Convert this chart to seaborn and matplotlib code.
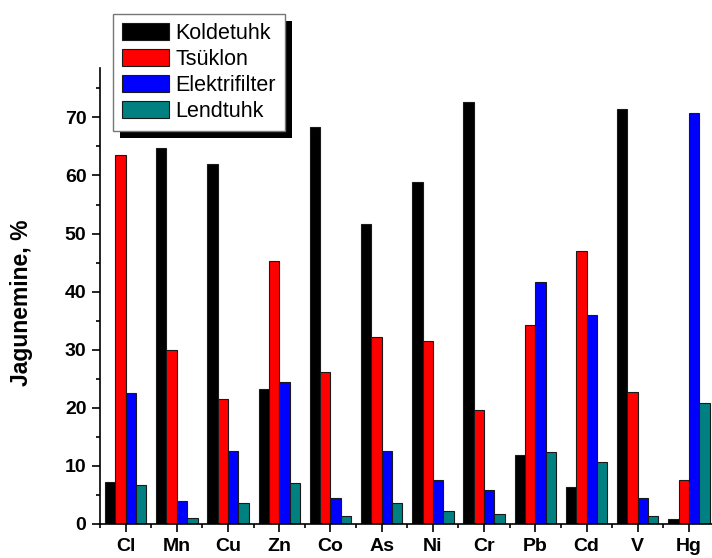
import matplotlib
matplotlib.use("Agg")
import matplotlib.pyplot as plt
from matplotlib.patches import Patch, Rectangle
from matplotlib.ticker import MultipleLocator, FixedLocator
import seaborn as sns
import pandas as pd
import numpy as np

elements = ["Cl", "Mn", "Cu", "Zn", "Co", "As", "Ni", "Cr", "Pb", "Cd", "V", "Hg"]
series = ["Koldetuhk", "Tsüklon", "Elektrifilter", "Lendtuhk"]
koldetuhk = [7.2, 64.7, 62.0, 23.2, 68.3, 51.7, 58.8, 72.6, 11.8, 6.4, 71.5, 0.8]
tsuklon = [63.5, 30.0, 21.6, 45.3, 26.1, 32.2, 31.5, 19.7, 34.3, 47.0, 22.8, 7.6]
elektrifilter = [22.5, 4.0, 12.6, 24.4, 4.4, 12.5, 7.6, 5.9, 41.7, 36.0, 4.4, 70.7]
lendtuhk = [6.7, 1.1, 3.6, 7.1, 1.3, 3.6, 2.3, 1.8, 12.4, 10.7, 1.3, 20.9]
colors = ["#000000", "#ff0000", "#0000ff", "#008080"]

rows = []
for name, vals in zip(series, [koldetuhk, tsuklon, elektrifilter, lendtuhk]):
    for el, v in zip(elements, vals):
        rows.append({"element": el, "series": name, "value": v})
df = pd.DataFrame(rows)

sns.set_style("ticks")
plt.rcParams["font.family"] = ["Liberation Sans", "DejaVu Sans"]
plt.rcParams["text.color"] = "black"
plt.rcParams["axes.labelcolor"] = "black"
plt.rcParams["xtick.color"] = "black"
plt.rcParams["ytick.color"] = "black"

fig = plt.figure(figsize=(7.12, 5.58), dpi=100)
ax = fig.add_axes([100 / 712, 34 / 558, 612 / 712, 456 / 558])

sns.barplot(data=df, x="element", y="value", hue="series", order=elements,
            hue_order=series, palette=colors, width=0.81, saturation=1,
            edgecolor="#1a1a1a", linewidth=0.8, ax=ax, legend=False)

ax.set_xlim(-0.5, 11.45)
ax.set_ylim(0, 78.5)
ax.yaxis.set_major_locator(MultipleLocator(10))
ax.yaxis.set_minor_locator(MultipleLocator(5))
ax.xaxis.set_minor_locator(FixedLocator(np.arange(-0.5, 12, 1)))
ax.set_xlabel("")
ax.set_ylabel("Jagunemine, %", fontsize=16.5, fontweight="bold")
ax.yaxis.set_label_coords(-0.109, 0.485)

for s in ["top", "right"]:
    ax.spines[s].set_visible(False)
for s in ["left", "bottom"]:
    ax.spines[s].set_linewidth(1.2)
    ax.spines[s].set_color("black")

ax.tick_params(axis="y", which="major", length=5.8, width=1.2, direction="out", labelsize=14, pad=4)
ax.tick_params(axis="y", which="minor", length=3, width=1.2, direction="out")
ax.tick_params(axis="x", which="major", length=5.8, width=1.2, direction="out", labelsize=14, pad=4.5)
ax.tick_params(axis="x", which="minor", length=3, width=1.2, direction="out")
for lab in ax.get_xticklabels() + ax.get_yticklabels():
    lab.set_fontweight("bold")

handles = [Patch(facecolor=c, edgecolor="#1a1a1a", linewidth=0.8) for c in colors]
leg = fig.legend(handles, series, loc="upper left",
                 bbox_to_anchor=(113 / 712, 1 - 14 / 558), borderaxespad=0,
                 fontsize=15.5, frameon=True, fancybox=False, framealpha=1,
                 edgecolor="#777777", handlelength=2.2, handleheight=0.85,
                 handletextpad=0.3, labelspacing=0.24, borderpad=0.4)
leg.get_frame().set_linewidth(1.0)
leg.set_zorder(6)

fig.canvas.draw()
bb = leg.get_window_extent(fig.canvas.get_renderer())
bbf = bb.transformed(fig.transFigure.inverted())
dx, dy = 7 / 712, 7 / 558
shadow = Rectangle((bbf.x0 + dx, bbf.y0 - dy), bbf.width, bbf.height,
                   transform=fig.transFigure, facecolor="black", edgecolor="none",
                   zorder=5)
fig.add_artist(shadow)

fig.savefig("out.png", dpi=100)
